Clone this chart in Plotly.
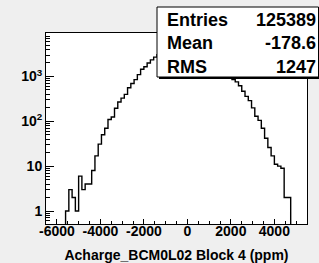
import plotly.graph_objects as go

# ---- data ----
bin_low = -6500
bin_width = 150
counts = [0, 0, 0, 0, 0, 0, 1, 3, 2, 1,
          6, 3, 4, 4, 8, 17, 31, 50, 70, 110,
          125, 196, 270, 330, 400, 560, 700, 850, 1100, 1450,
          1650, 2000, 2350, 2700, 3050, 3410, 3730, 4020, 4270, 4470,
          4610, 4690, 4695, 4640, 4520, 4330, 4100, 3820, 3510, 3180,
          2840, 2500, 2160, 1850, 1560, 1290, 1060, 855, 760, 620,
          470, 360, 290, 200, 130, 105, 70, 42, 26, 17,
          11, 10, 9, 2, 2, 0, 0, 0, 0, 0]
x_ticks = [-6000, -4000, -2000, 0, 2000, 4000]
x_ticktext = ["-6000", "-4000", "-2000", "0", "2000", "4000"]
y_ticks = [1, 10, 100, 1000]
y_ticktext = ["1", "10", "10<sup>2</sup>", "10<sup>3</sup>"]
stat_names = ["Entries", "Mean", "RMS"]
stat_values = ["125389", "-178.6", "1247"]
x_title = "Acharge_BCM0L02 Block 4 (ppm)"

edges = [bin_low + bin_width * i for i in range(len(counts) + 1)]
yplot = [c if c > 0 else 1e-3 for c in counts] + [counts[-1] if counts[-1] > 0 else 1e-3]

font_b = dict(family="Liberation Sans, Arial, sans-serif", size=14, color="black", weight="bold")

fig = go.Figure()
fig.add_trace(go.Scatter(x=edges, y=yplot, mode="lines", line=dict(shape="hv", color="black", width=1.4),
                         hoverinfo="skip", showlegend=False))

y_minor = []
for d in [0.1, 1, 10, 100, 1000]:
    for m in range(2, 10):
        v = d * m
        if 0.5 <= v <= 9500:
            y_minor.append(v)

L, R, T, B = 46, 307, 33, 224
W, H = R - L, B - T

fig.update_layout(
    width=319, height=263,
    margin=dict(l=L, r=319 - R, t=T, b=263 - B, autoexpand=False),
    paper_bgcolor="#efefef", plot_bgcolor="white",
    showlegend=False,
    xaxis=dict(range=[-6500, 5500], tickvals=x_ticks, ticktext=x_ticktext, ticks="inside", ticklen=5,
               tickcolor="black", tickwidth=1, showgrid=False, zeroline=False, showline=True,
               linecolor="black", linewidth=1, mirror=True, tickfont=font_b, automargin=False,
               ticklabelstandoff=-6,
               minor=dict(dtick=500, tick0=0, ticks="inside", ticklen=3, tickcolor="black", showgrid=False),
               title=dict(text=x_title, font=font_b, standoff=13)),
    yaxis=dict(type="log", range=[-0.29, 3.97], tickvals=y_ticks, ticktext=y_ticktext, ticks="inside",
               ticklen=8, tickcolor="black", tickwidth=1, showgrid=False, zeroline=False, showline=True,
               linecolor="black", linewidth=1, mirror=True, tickfont=font_b, automargin=False,
               minor=dict(tickvals=y_minor, ticks="inside", ticklen=4, tickcolor="black", showgrid=False)),
)

# stats box
x0p, x1p = (157 - L) / W, (318.5 - L) / W
y0p, y1p = (B - 77) / H, (B - 7) / H
fig.add_shape(type="rect", xref="paper", yref="paper", x0=x0p + 2 / W, x1=x1p + 2 / W,
              y0=y0p - 2 / H, y1=y1p - 2 / H, fillcolor="black", line=dict(width=0), layer="above")
fig.add_shape(type="rect", xref="paper", yref="paper", x0=x0p, x1=x1p, y0=y0p, y1=y1p,
              fillcolor="white", line=dict(color="black", width=1), layer="above")

row_py = [20, 43.3, 66.7]
font_s = dict(family="Liberation Sans, Arial, sans-serif", size=18, color="black", weight="bold")
for name, val, py in zip(stat_names, stat_values, row_py):
    yp = (B - py) / H
    fig.add_annotation(xref="paper", yref="paper", x=(166 - L) / W, y=yp, text=name, showarrow=False,
                       xanchor="left", yanchor="middle", font=font_s, borderpad=0)
    fig.add_annotation(xref="paper", yref="paper", x=(317 - L) / W, y=yp, text=val, showarrow=False,
                       xanchor="right", yanchor="middle", font=font_s, borderpad=0)

fig.write_html("out.html", config={"displayModeBar": False},
               post_script="document.body.style.margin='0';document.body.style.background='#efefef';")
